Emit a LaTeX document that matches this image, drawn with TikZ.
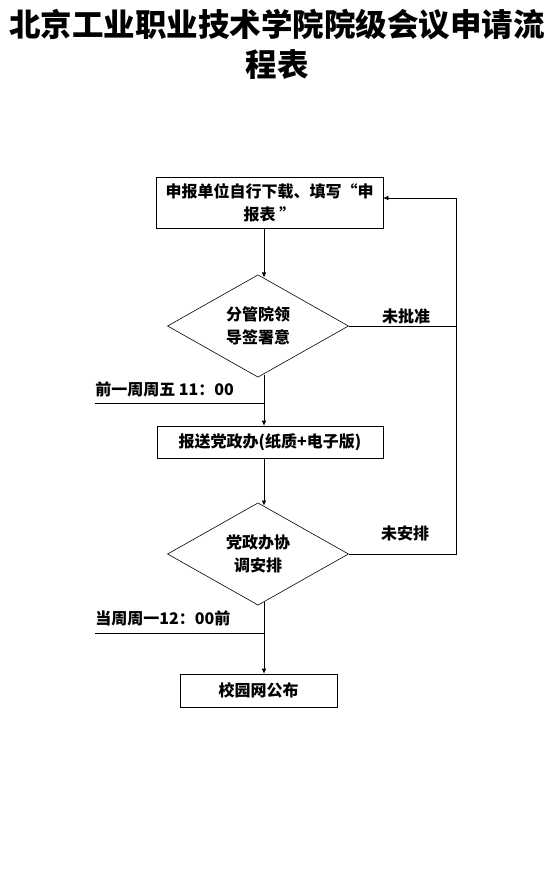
\documentclass[tikz,border=0pt]{standalone}
\usepackage{fontspec}
\setmainfont{Noto Sans CJK SC}
\usetikzlibrary{shapes.geometric,arrows.meta}

\begin{document}
\begin{tikzpicture}[x=1pt,y=-1pt,
    every node/.style={font=\bfseries\fontsize{16}{23}\selectfont},
    stepbox/.style={draw,rectangle,inner sep=0pt,align=center},
    choice/.style={draw,diamond,inner sep=0pt,minimum width=181pt,minimum height=92pt,align=center},
    arr/.style={-{Latex[length=5pt,width=4.5pt]}},
    line width=0.6pt]
    \useasboundingbox (0,0) rectangle (554,878);
    \node[font=\bfseries\fontsize{31.5}{40}\selectfont,align=center] (title) at (277,44)
        {北京工业职业技术学院院级会议申请流\\程表};
    \node[stepbox,minimum width=227pt,minimum height=51pt] (apply) at (269.5,202.5)
        {申报单位自行下载、填写“申\\报表 ”};
    \node[choice] (sign) at (258,326) {分管院领\\导签署意};
    \node[stepbox,minimum width=226pt,minimum height=32pt] (send) at (270,442)
        {报送党政办(纸质+电子版)};
    \node[choice] (plan) at (258,554) {党政办协\\调安排};
    \node[stepbox,minimum width=157pt,minimum height=33pt] (publish) at (258.5,690.5)
        {校园网公布};
    \node (nopass) at (406,316) {未批准};
    \node (noplan) at (405,533) {未安排};
    \node[anchor=south west,inner sep=0pt] (fri) at (95,397) {前一周周五 11：00};
    \node[anchor=south west,inner sep=0pt] (mon) at (95,626) {当周周一12：00前};
    \coordinate (axis) at (264,0);
    \coordinate (loop) at (456,198);
    \coordinate (frimark) at (95,403);
    \coordinate (monmark) at (95,633);
    \draw[arr] (axis |- apply.south) -- ([yshift=-3pt]axis |- sign.north);
    \draw[arr] ([yshift=3pt]axis |- sign.south) -- (axis |- send.north);
    \draw (frimark) -- (frimark -| axis);
    \draw[arr] (axis |- send.south) -- ([yshift=-3pt]axis |- plan.north);
    \draw[arr] ([yshift=3pt]axis |- plan.south) -- (axis |- publish.north);
    \draw (monmark) -- (monmark -| axis);
    \draw (sign.east) -- (sign.east -| loop);
    \draw[arr] (plan.east) -| (loop) -- (loop -| apply.east);
\end{tikzpicture}
\end{document}
